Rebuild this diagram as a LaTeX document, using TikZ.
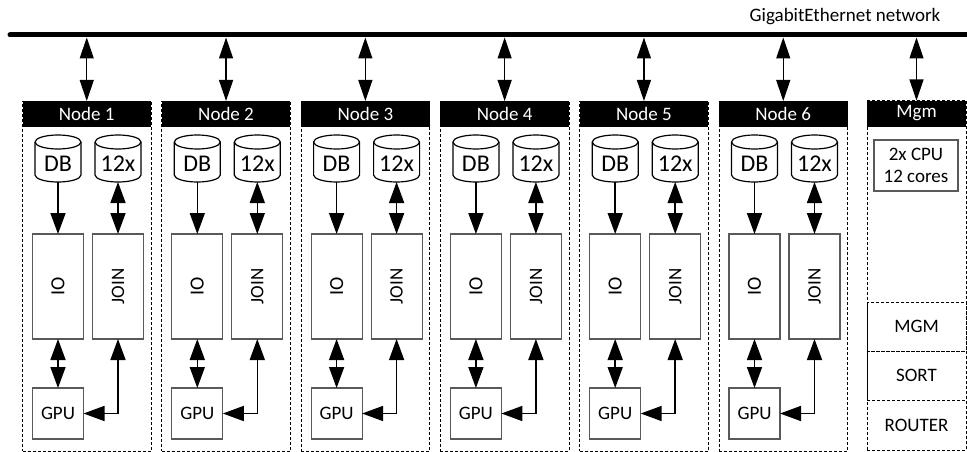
\documentclass[tikz,border=0pt]{standalone}
\usepackage{fontspec}
\setmainfont{Carlito}
\usetikzlibrary{arrows.meta}
\begin{document}
\begin{tikzpicture}[x=1pt,y=-1pt,
  every node/.style={inner sep=0pt, outer sep=0pt},
  hdr/.style={fill=black, text=white, minimum width=128.5pt, minimum height=26pt, font=\fontsize{19}{21}\selectfont},
  dbox/.style={draw=black, dash pattern=on 3pt off 2pt, line width=0.8pt},
  gbox/.style={draw=black!65, line width=1.2pt, fill=white},
  cyl/.style={draw=black, line width=1.2pt},
  arr/.style={line width=1.6pt, -{Triangle[length=21pt,width=15pt]}},
  darr/.style={line width=1.6pt, {Triangle[length=21pt,width=15pt]}-{Triangle[length=21pt,width=15pt]}},
  barr/.style={line width=1.2pt, {Triangle[length=21pt,width=14pt]}-{Triangle[length=21pt,width=14pt]}},
  lbl/.style={font=\fontsize{19}{22}\selectfont},
  big/.style={font=\fontsize{24}{26}\selectfont},
  rio/.style={font=\fontsize{20}{22}\selectfont},
  rjoin/.style={font=\fontsize{19}{21}\selectfont}]
\useasboundingbox (0,0) rectangle (967,452);

% network bus
\coordinate (busL) at (10,35);
\coordinate (busR) at (975,35);
\draw[line width=5pt, line cap=round] (busL) -- (busR);
\node[lbl] (net) at (845,17) {GigabitEthernet network};

\foreach \i in {1,...,6}{
  \pgfmathsetmacro{\cx}{86.75+139.3*(\i-1)}
  \begin{scope}[shift={(\cx,0)}]
    \node[dbox, minimum width=128.5pt, minimum height=350pt] (box\i) at (0,276) {};
    \node[hdr] (hdr\i) at (0,114) {Node \i};
    \coordinate (bus\i) at (0,37.5);
    % cylinders
    \foreach \c in {-28.75,31.25}{
      \begin{scope}[shift={(\c,158.5)}]
        \draw[cyl] (-23,-16.5) -- (-23,16.5)
          arc[start angle=180,end angle=0,x radius=23,y radius=7]
          -- (23,-16.5)
          arc[start angle=0,end angle=-180,x radius=23,y radius=7];
        \draw[cyl] (-23,-16.5) arc[start angle=180,end angle=0,x radius=23,y radius=7];
      \end{scope}
    }
    \node[big, minimum width=46pt, minimum height=37pt] (db\i) at (-28.75,163.5) {DB};
    \node[big, minimum width=46pt, minimum height=37pt] (x\i) at (31.25,163.5) {12x};
    \node[gbox, minimum width=51pt, minimum height=105pt, rio] (io\i) at (-28.75,286.5) {\rotatebox{90}{IO}};
    \node[gbox, minimum width=51pt, minimum height=105pt, rjoin] (join\i) at (31.25,286.5) {\rotatebox{90}{JOIN}};
    \node[gbox, minimum width=51pt, minimum height=51pt, lbl] (gpu\i) at (-28.75,413.5) {GPU};
    \draw[arr] (db\i.south) -- (io\i.north);
    \draw[darr] (x\i.south) -- (join\i.north);
    \draw[darr] (io\i.south) -- (gpu\i.north);
    \draw[darr] (join\i.south) |- (gpu\i.east);
    \draw[barr] (bus\i) -- (hdr\i.north);
  \end{scope}
}

% management node
\node[dbox, minimum width=99pt, minimum height=350pt] (mbox) at (916.5,275) {};
\node[hdr, minimum width=99pt] (mhdr) at (916.5,113.5) {Mgm};
\coordinate (busm) at (916.5,37.5);
\draw[barr] (busm) -- (mhdr.north);
\node[gbox, minimum width=84pt, minimum height=51pt, align=center, lbl] (cpu) at (916,165.5) {2x CPU\\12 cores};
\node[dbox, minimum width=99pt, minimum height=49pt, lbl] (mgm) at (916.5,326.5) {MGM};
\node[dbox, minimum width=99pt, minimum height=49pt, lbl] (sort) at (916.5,375.5) {SORT};
\node[dbox, minimum width=99pt, minimum height=50pt, lbl] (router) at (916.5,425) {ROUTER};
\end{tikzpicture}
\end{document}
